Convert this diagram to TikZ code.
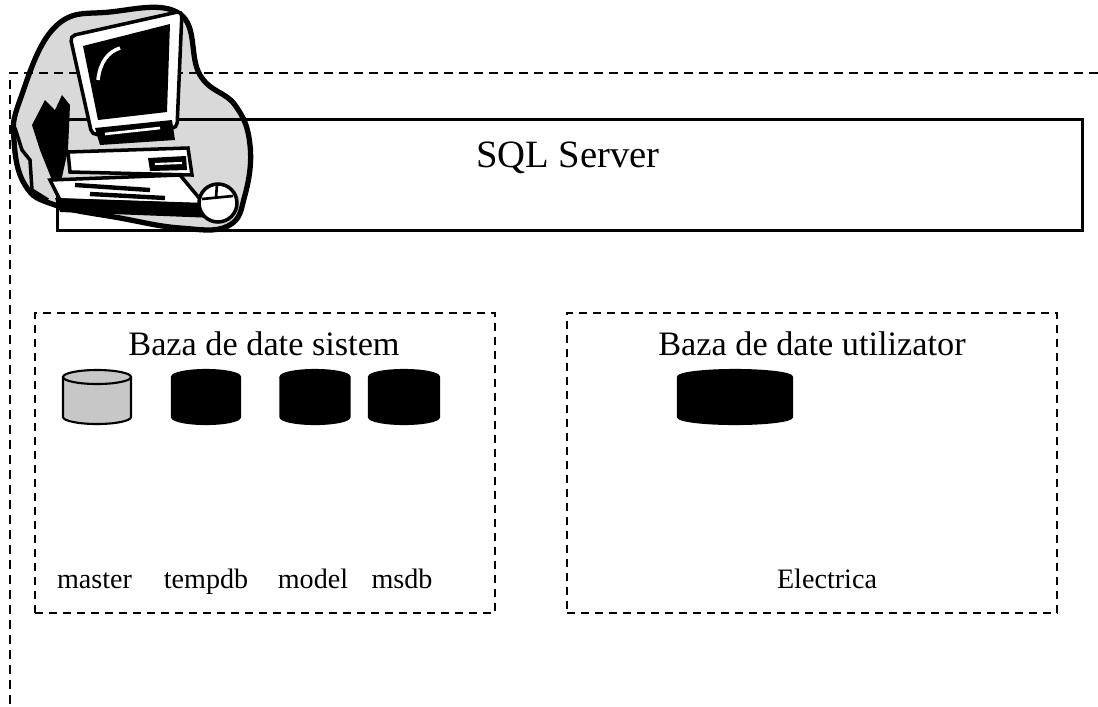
\documentclass[tikz,border=0pt]{standalone}
\usepackage{fontspec}
\setmainfont{Liberation Serif}

\begin{document}
\begin{tikzpicture}[
				x=0.2mm, y=0.2mm,
				frame/.style={
					dash pattern=on 1.8mm off 1.2mm,
					line width=1.4pt
				},
				group/.style={
					draw=black,
					dash pattern=on 1.6mm off 1.2mm,
					line width=1.3pt,
					minimum height=60mm,
					inner sep=0pt
				},
				server/.style={
					draw=black,
					line width=1.7pt,
					minimum width=204.8mm,
					minimum height=22.2mm,
					inner sep=0pt
				},
				pics/dbdisk/.style={code={
					\path[draw=black, line width=1.2pt, pic actions]
						(-#1,20) -- (-#1,-20)
						arc[start angle=180, end angle=360, x radius=#1, y radius=7]
						-- (#1,20)
						arc[start angle=0, end angle=180, x radius=#1, y radius=7]
						-- cycle;
					\draw[line width=1.2pt] (-#1,20)
						arc[start angle=180, end angle=360, x radius=#1, y radius=7];
					\coordinate (-c) at (0,0);
				}},
				title/.style={font=\fontsize{19.5}{22}\selectfont, anchor=base},
				dbname/.style={font=\fontsize{16}{18}\selectfont, anchor=base}
				]
				\useasboundingbox (0,0) rectangle (1098,-706);
				
				% computer clip art: the blob behind it
				\draw[line width=3pt, fill=black!15]
					plot[smooth cycle, tension=0.7] coordinates {
						(20,-100) (55,-27) (110,-12) (180,-14) (200,-75) (235,-105)
						(250,-145) (245,-195) (228,-226) (180,-228) (120,-218)
						(55,-205) (25,-185) (14,-140)};
				
				% server frame, open to the right and below
				\draw[frame] (1098,-73) -- (10,-73) -- (10,-706);
				\node[server] (sqlsrv) at (570,-174.5) {};
				\node[font=\fontsize{22}{26}\selectfont, anchor=base] (sqllbl) at (568,-167) {SQL Server};
				
				% pen holder
				\fill (32,-125) -- (45,-100) -- (55,-110) -- (62,-95) -- (70,-105)
					-- (68,-150) -- (58,-195) -- (48,-170) -- (40,-150) -- cycle;
				\draw[line width=2pt] (15,-128) -- (22,-150) -- (30,-160) -- (32,-190) -- (48,-200);
				% monitor
				\draw[line width=2pt, fill=white, rounded corners=3pt]
					(70,-36) -- (182,-11) -- (177,-128) -- (92,-135) -- cycle;
				\fill (83,-46) -- (170,-24) -- (167,-112) -- (98,-120) -- cycle;
				\draw[white, line width=2pt] (98,-80) .. controls (100,-62) and (108,-52) .. (120,-48);
				\fill (95,-128) -- (172,-120) -- (175,-140) -- (100,-145) -- cycle;
				\draw[white, line width=1.5pt] (105,-134) -- (160,-128);
				% desktop case and keyboard
				\draw[line width=2pt, fill=white] (68,-152) -- (188,-148) -- (192,-175) -- (70,-172) -- cycle;
				\fill (148,-158) -- (186,-156) -- (187,-170) -- (150,-171) -- cycle;
				\draw[white, line width=1.2pt] (155,-164) -- (182,-163);
				\draw[line width=2pt, fill=white] (50,-180) -- (180,-175) -- (205,-205) -- (60,-200) -- cycle;
				\draw[line width=2.5pt] (75,-185) -- (150,-190);
				\draw[line width=2.5pt] (90,-194) -- (165,-198);
				\fill (55,-198) -- (205,-203) -- (215,-218) -- (60,-212) -- cycle;
				% mouse
				\draw[line width=2pt, fill=white] (218,-203) circle (19);
				\draw[line width=1.5pt] (202,-199) -- (233,-196);
				\draw[line width=1.5pt] (217,-184) -- (216,-198);
				
				% system databases
				\node[group, minimum width=92mm] (sysgrp) at (265,-463) {};
				\node[title] (systitle) at (264,-355) {Baza de date sistem};
				\pic[fill=black!22] (master) at (97,-397) {dbdisk=34};
				\pic[fill=black] (tempdb) at (206,-397) {dbdisk=34};
				\pic[fill=black] (model) at (315,-397) {dbdisk=34.5};
				\pic[fill=black] (msdb) at (404,-397) {dbdisk=35};
				\node[dbname] (masterlbl) at (94.5,-588) {master};
				\node[dbname] (tempdblbl) at (206,-588) {tempdb};
				\node[dbname] (modellbl) at (313,-588) {model};
				\node[dbname] (msdblbl) at (402,-588) {msdb};
				
				% user databases
				\node[group, minimum width=98mm] (usrgrp) at (812,-463) {};
				\node[title] (usrtitle) at (812,-355) {Baza de date utilizator};
				\pic[fill=black] (electrica) at (735,-397) {dbdisk=57};
				\node[dbname] (electricalbl) at (827,-588) {Electrica};
			\end{tikzpicture}
\end{document}
